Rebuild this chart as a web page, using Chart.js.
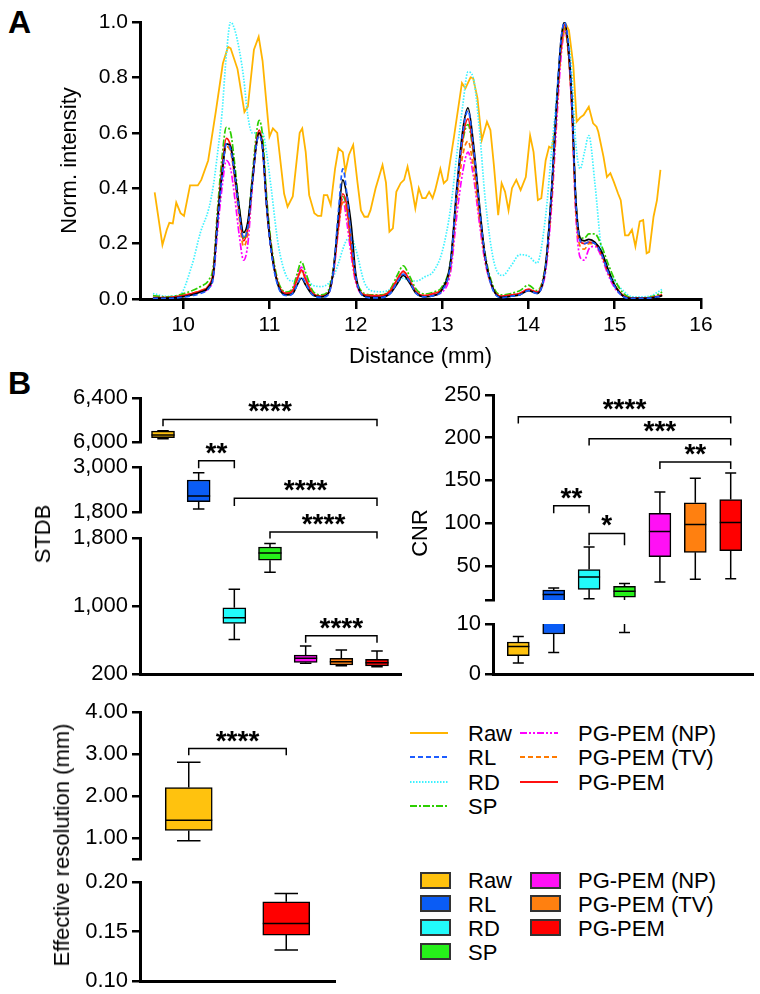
<!DOCTYPE html>
<html>
<head>
<meta charset="utf-8">
<script src="https://cdn.jsdelivr.net/npm/chart.js@4.4.0/dist/chart.umd.min.js"></script>
<style>
  html, body { margin: 0; padding: 0; background: #fff; }
  #fig { position: relative; width: 760px; height: 994px; overflow: hidden;
         font-family: 'Liberation Sans', Arial, sans-serif; color: #000; }
  canvas { position: absolute; }
  .panel { position: absolute; font-weight: bold; font-size: 32px; line-height: 32px; }
  .ytitle { position: absolute; font-size: 22px; white-space: nowrap;
            transform: translate(-50%, -50%) rotate(-90deg); }
  .leg { position: absolute; font-size: 22px; white-space: nowrap; transform: translateY(-50%); }
  .sw { position: absolute; box-sizing: border-box; border: 2px solid #333; }
</style>
</head>
<body>
<div id="fig">
  <div class="panel" style="left:8px;top:6px">A</div>
  <div class="panel" style="left:8px;top:367px">B</div>
  <canvas id="profile"></canvas>
  <canvas id="stdbTop"></canvas>
  <canvas id="stdbMid"></canvas>
  <canvas id="stdbLow"></canvas>
  <canvas id="cnrTop"></canvas>
  <canvas id="cnrLow"></canvas>
  <canvas id="resTop"></canvas>
  <canvas id="resLow"></canvas>
  <div class="ytitle" style="left:43px;top:534px">STDB</div>
  <div class="ytitle" style="left:420px;top:533px">CNR</div>
  <div class="ytitle" style="left:62px;top:845px">Effective resolution (mm)</div>
</div>
<script>
// ---- methods / colours ----
const methods = ['Raw', 'RL', 'RD', 'SP', 'PG-PEM (NP)', 'PG-PEM (TV)', 'PG-PEM'];
const boxColors = ['#ffc20e', '#0a5cf5', '#22fbfb', '#26f01a', '#ff10f5', '#ff8010', '#ff0000'];
const lineColors = ['#ffb400', '#1d5cff', '#3cf2ff', '#2ccf00', '#ff00ff', '#ff7a00', '#ff1010'];
const lineDashes = [[], [5, 3], [1.5, 1.5], [7, 2, 2, 2], [7, 2, 2, 2, 2, 2], [5, 3], []];

// ---- panel A: line profiles ----
const distTicks = [10, 11, 12, 13, 14, 15, 16];
const intensityTicks = [0, 0.2, 0.4, 0.6, 0.8, 1.0];

const rawDist = [9.67, 9.76, 9.81, 9.84, 9.88, 9.92, 9.97, 10.01, 10.08, 10.17,
  10.21, 10.29, 10.38, 10.46, 10.52, 10.55, 10.63, 10.71, 10.75, 10.82,
  10.875, 10.92, 11.0, 11.04, 11.09, 11.17, 11.21, 11.27, 11.35, 11.38,
  11.42, 11.46, 11.52, 11.56, 11.6, 11.63, 11.67, 11.71, 11.76, 11.8,
  11.85, 11.88, 11.92, 11.97, 12.02, 12.06, 12.1, 12.14, 12.17, 12.23,
  12.31, 12.35, 12.39, 12.43, 12.47, 12.52, 12.56, 12.6, 12.64, 12.69,
  12.73, 12.77, 12.81, 12.85, 12.89, 12.92, 12.98, 13.02, 13.06, 13.14,
  13.23, 13.27, 13.33, 13.36, 13.41, 13.46, 13.52, 13.56, 13.6, 13.65,
  13.69, 13.73, 13.77, 13.81, 13.86, 13.91, 13.97, 14.02, 14.06, 14.11,
  14.15, 14.2, 14.24, 14.27, 14.31, 14.37, 14.43, 14.47, 14.52, 14.56,
  14.6, 14.64, 14.7, 14.75, 14.79, 14.81, 14.87, 14.91, 14.95, 14.99,
  15.04, 15.07, 15.12, 15.16, 15.2, 15.24, 15.29, 15.33, 15.37, 15.4,
  15.45, 15.49, 15.53];
const rawIntensity = [0.385, 0.195, 0.25, 0.275, 0.273, 0.348, 0.31, 0.30, 0.41, 0.41,
  0.43, 0.50, 0.68, 0.85, 0.91, 0.905, 0.83, 0.675, 0.695, 0.90,
  0.947, 0.86, 0.586, 0.616, 0.60, 0.38, 0.333, 0.37, 0.60, 0.616,
  0.53, 0.375, 0.31, 0.30, 0.30, 0.375, 0.375, 0.34, 0.47, 0.544,
  0.53, 0.46, 0.52, 0.556, 0.42, 0.32, 0.297, 0.297, 0.32, 0.40,
  0.484, 0.42, 0.243, 0.255, 0.387, 0.418, 0.43, 0.478, 0.418, 0.327,
  0.40, 0.364, 0.364, 0.387, 0.364, 0.393, 0.47, 0.418, 0.43, 0.59,
  0.78, 0.76, 0.80, 0.797, 0.725, 0.574, 0.64, 0.61, 0.484, 0.303,
  0.418, 0.387, 0.32, 0.40, 0.43, 0.393, 0.44, 0.59, 0.53, 0.357,
  0.364, 0.50, 0.55, 0.544, 0.616, 0.88, 0.995, 0.97, 0.845, 0.64,
  0.655, 0.664, 0.694, 0.634, 0.622, 0.604, 0.514, 0.44, 0.454, 0.423,
  0.38, 0.357, 0.23, 0.23, 0.25, 0.19, 0.28, 0.285, 0.165, 0.17,
  0.297, 0.357, 0.466];

// shared distance grid for the reconstructed profiles
const dist = [9.65, 9.8, 9.95, 10.1, 10.2, 10.3, 10.35, 10.4, 10.45, 10.5,
  10.55, 10.6, 10.65, 10.7, 10.75, 10.8, 10.85, 10.88, 10.92, 10.97,
  11.02, 11.1, 11.2, 11.27, 11.32, 11.37, 11.42, 11.5, 11.6, 11.68,
  11.74, 11.8, 11.85, 11.9, 11.95, 12.0, 12.1, 12.2, 12.3, 12.4,
  12.48, 12.55, 12.62, 12.7, 12.8, 12.9, 13.0, 13.1, 13.17, 13.24,
  13.3, 13.36, 13.43, 13.5, 13.6, 13.7, 13.8, 13.9, 14.0, 14.1,
  14.2, 14.27, 14.33, 14.38, 14.42, 14.46, 14.5, 14.55, 14.6, 14.65,
  14.7, 14.77, 14.85, 14.92, 15.0, 15.1, 15.2, 15.3, 15.4, 15.5, 15.55];

const truth = [0.003, 0.003, 0.006, 0.015, 0.025, 0.045, 0.09, 0.29, 0.45, 0.56,
  0.55, 0.45, 0.33, 0.24, 0.28, 0.42, 0.56, 0.60, 0.55, 0.33,
  0.18, 0.05, 0.015, 0.02, 0.05, 0.075, 0.05, 0.015, 0.008, 0.02,
  0.10, 0.30, 0.43, 0.37, 0.26, 0.09, 0.01, 0.006, 0.006, 0.02,
  0.055, 0.085, 0.06, 0.02, 0.008, 0.012, 0.035, 0.14, 0.40, 0.61,
  0.69, 0.57, 0.35, 0.15, 0.03, 0.006, 0.01, 0.015, 0.03, 0.02,
  0.12, 0.40, 0.72, 0.94, 1.00, 0.92, 0.74, 0.36, 0.22, 0.21,
  0.215, 0.205, 0.17, 0.11, 0.05, 0.01, 0.002, 0.002, 0.003, 0.008, 0.012];
const rl = [0.002, 0.002, 0.005, 0.012, 0.02, 0.04, 0.08, 0.28, 0.44, 0.56,
  0.54, 0.44, 0.31, 0.22, 0.26, 0.41, 0.56, 0.59, 0.54, 0.32,
  0.17, 0.045, 0.012, 0.02, 0.05, 0.08, 0.055, 0.015, 0.006, 0.015,
  0.10, 0.32, 0.47, 0.37, 0.21, 0.08, 0.008, 0.004, 0.005, 0.02,
  0.06, 0.09, 0.065, 0.02, 0.008, 0.012, 0.03, 0.13, 0.39, 0.60,
  0.68, 0.56, 0.34, 0.15, 0.025, 0.005, 0.01, 0.015, 0.03, 0.02,
  0.12, 0.40, 0.73, 0.94, 1.00, 0.93, 0.74, 0.35, 0.21, 0.20,
  0.205, 0.20, 0.16, 0.10, 0.045, 0.008, 0.002, 0.002, 0.003, 0.008, 0.012];
const rd = [0.02, 0.01, 0.012, 0.12, 0.24, 0.33, 0.41, 0.53, 0.67, 0.88,
  1.0, 0.97, 0.90, 0.80, 0.66, 0.60, 0.60, 0.60, 0.60, 0.52,
  0.40, 0.20, 0.08, 0.065, 0.075, 0.10, 0.08, 0.05, 0.045, 0.055,
  0.08, 0.13, 0.18, 0.215, 0.22, 0.18, 0.06, 0.028, 0.026, 0.035,
  0.06, 0.075, 0.065, 0.065, 0.08, 0.10, 0.17, 0.33, 0.52, 0.70,
  0.82, 0.80, 0.62, 0.36, 0.135, 0.085, 0.12, 0.16, 0.155, 0.13,
  0.30, 0.54, 0.74, 0.92, 0.98, 0.94, 0.83, 0.56, 0.47, 0.53,
  0.59, 0.42, 0.17, 0.11, 0.065, 0.03, 0.008, 0.008, 0.01, 0.025, 0.035];
const sp = [0.012, 0.008, 0.014, 0.03, 0.045, 0.07, 0.12, 0.33, 0.51, 0.62,
  0.60, 0.48, 0.33, 0.22, 0.27, 0.44, 0.60, 0.645, 0.59, 0.36,
  0.20, 0.065, 0.025, 0.04, 0.09, 0.135, 0.095, 0.03, 0.015, 0.03,
  0.11, 0.27, 0.37, 0.32, 0.19, 0.08, 0.02, 0.015, 0.015, 0.035,
  0.085, 0.12, 0.085, 0.035, 0.018, 0.025, 0.045, 0.14, 0.38, 0.57,
  0.63, 0.53, 0.33, 0.16, 0.04, 0.015, 0.02, 0.03, 0.05, 0.03,
  0.13, 0.39, 0.71, 0.92, 0.98, 0.90, 0.72, 0.35, 0.22, 0.22,
  0.235, 0.235, 0.19, 0.13, 0.07, 0.02, 0.005, 0.004, 0.006, 0.016, 0.025];
const np = [0.004, 0.004, 0.008, 0.018, 0.025, 0.04, 0.08, 0.25, 0.40, 0.50,
  0.47, 0.36, 0.23, 0.14, 0.20, 0.40, 0.56, 0.60, 0.55, 0.33,
  0.18, 0.055, 0.02, 0.035, 0.08, 0.115, 0.08, 0.02, 0.01, 0.02,
  0.09, 0.25, 0.36, 0.27, 0.15, 0.06, 0.012, 0.01, 0.01, 0.025,
  0.07, 0.10, 0.07, 0.025, 0.01, 0.015, 0.025, 0.10, 0.30, 0.46,
  0.53, 0.45, 0.28, 0.13, 0.03, 0.01, 0.015, 0.02, 0.035, 0.025,
  0.10, 0.34, 0.65, 0.88, 0.97, 0.90, 0.70, 0.30, 0.15, 0.14,
  0.18, 0.19, 0.15, 0.09, 0.04, 0.01, 0.003, 0.003, 0.004, 0.01, 0.015];
const tv = [0.005, 0.005, 0.01, 0.02, 0.03, 0.05, 0.09, 0.29, 0.45, 0.55,
  0.53, 0.43, 0.29, 0.19, 0.24, 0.41, 0.56, 0.60, 0.54, 0.32,
  0.18, 0.055, 0.02, 0.03, 0.07, 0.10, 0.07, 0.02, 0.01, 0.02,
  0.09, 0.26, 0.35, 0.31, 0.17, 0.07, 0.015, 0.012, 0.012, 0.03,
  0.07, 0.10, 0.07, 0.025, 0.012, 0.02, 0.035, 0.12, 0.35, 0.52,
  0.57, 0.48, 0.30, 0.14, 0.03, 0.01, 0.015, 0.02, 0.035, 0.025,
  0.12, 0.37, 0.69, 0.91, 0.98, 0.91, 0.71, 0.32, 0.19, 0.18,
  0.20, 0.20, 0.16, 0.10, 0.05, 0.012, 0.003, 0.003, 0.004, 0.01, 0.015];
const pgpem = [0.005, 0.005, 0.01, 0.02, 0.03, 0.05, 0.10, 0.30, 0.47, 0.58,
  0.55, 0.43, 0.31, 0.21, 0.26, 0.42, 0.57, 0.61, 0.55, 0.33,
  0.18, 0.055, 0.02, 0.03, 0.07, 0.105, 0.07, 0.02, 0.01, 0.02,
  0.10, 0.27, 0.38, 0.33, 0.18, 0.07, 0.015, 0.012, 0.012, 0.03,
  0.07, 0.10, 0.07, 0.025, 0.012, 0.02, 0.035, 0.13, 0.38, 0.58,
  0.65, 0.54, 0.33, 0.15, 0.03, 0.01, 0.015, 0.02, 0.035, 0.025,
  0.12, 0.38, 0.70, 0.92, 0.99, 0.91, 0.72, 0.34, 0.21, 0.20,
  0.205, 0.20, 0.16, 0.10, 0.05, 0.012, 0.003, 0.003, 0.004, 0.01, 0.015];

// ---- panel B: box statistics (min, q1, median, q3, max) ----
const stdbMin = [6030, 1880, 607, 1398, 326, 297, 286];
const stdbQ1 = [6039, 2075, 795, 1538, 337, 306, 294];
const stdbMed = [6063, 2227, 861, 1624, 384, 344, 333];
const stdbQ3 = [6099, 2654, 978, 1694, 423, 384, 373];
const stdbMax = [6102, 2849, 1198, 1734, 529, 482, 470];

const cnrMin = [2.2, 4.3, 11.4, 8.3, 31, 34.3, 35];
const cnrQ1 = [3.66, 8.0, 22.5, 13.4, 60.6, 65.8, 67.7];
const cnrMed = [5.5, 16.5, 37, 20.1, 90.2, 98.5, 100.8];
const cnrQ3 = [6.4, 21.5, 45.7, 26, 111.5, 123.8, 127.6];
const cnrMax = [7.5, 24, 72, 29.2, 136.3, 152.5, 158.8];

const resMethods = ['Raw', 'PG-PEM'];
const resColors = ['#ffc20e', '#ff0000'];
const resMin = [0.935, 0.1312];
const resQ1 = [1.18, 0.1464];
const resMed = [1.42, 0.1582];
const resQ3 = [2.20, 0.180];
const resMax = [2.805, 0.1884];

// significance brackets: group indices, bar level, end level, stars
const stdbBrackets = [
  [{ from: 0, to: 6, y: 6205, end: 6144, text: '****' }],
  [{ from: 1, to: 2, y: 3168, end: 2965, text: '**' },
   { from: 2, to: 6, y: 2166, end: 1960, text: '****' }],
  [{ from: 3, to: 6, y: 1871, end: 1793, text: '****' },
   { from: 4, to: 6, y: 650, end: 567, text: '****' }]
];
const cnrBrackets = [
  { from: 0, to: 6, y: 224.5, end: 216.5, text: '****' },
  { from: 2, to: 6, y: 198.8, end: 190.8, text: '***' },
  { from: 4, to: 6, y: 171.5, end: 163.3, text: '**' },
  { from: 1, to: 2, y: 120.3, end: 111.7, text: '**' },
  { from: 2, to: 3, y: 87.9, end: 74.2, text: '*' }
];
const resBrackets = [{ from: 0, to: 1, y: 3.13, end: 2.97, text: '****' }];

// broken axis segments: range, ticks, labels
const stdbSegs = [
  { min: 6000, max: 6400, ticks: [6000, 6400], labels: ['6,000', '6,400'] },
  { min: 1800, max: 3000, ticks: [1800, 3000], labels: ['1,800', '3,000'] },
  { min: 200, max: 1800, ticks: [200, 1000, 1800], labels: ['200', '1,000', '1,800'] }
];
const cnrSegs = [
  { min: 10, max: 250, ticks: [10, 50, 100, 150, 200, 250], labels: ['', '50', '100', '150', '200', '250'] },
  { min: 0, max: 10, ticks: [0, 10], labels: ['0', '10'] }
];
const resSegs = [
  { min: 0.5, max: 4, ticks: [0.5, 1, 2, 3, 4], labels: ['', '1.00', '2.00', '3.00', '4.00'] },
  { min: 0.1, max: 0.2, ticks: [0.1, 0.15, 0.2], labels: ['0.10', '0.15', '0.20'] }
];

Chart.defaults.font.family = "'Liberation Sans', Arial, sans-serif";
Chart.defaults.color = '#000';

// whiskers, medians and significance brackets
const boxExtras = {
  id: 'boxExtras',
  afterDatasetsDraw(chart, args, opts) {
    const { ctx, chartArea: a, scales: { x, y } } = chart;
    const s = opts.stats;
    const half = opts.boxWidth / 2, cap = opts.boxWidth / 4;
    ctx.save();
    ctx.beginPath();
    ctx.rect(a.left, a.top, a.right - a.left, a.bottom - a.top);
    ctx.clip();
    ctx.strokeStyle = '#000';
    ctx.lineWidth = 1.5;
    s.med.forEach((m, i) => {
      const cx = x.getPixelForValue(i);
      const lo = y.getPixelForValue(s.min[i]), q1 = y.getPixelForValue(s.q1[i]);
      const q3 = y.getPixelForValue(s.q3[i]), hi = y.getPixelForValue(s.max[i]);
      const md = y.getPixelForValue(m);
      ctx.beginPath();
      ctx.moveTo(cx, q1); ctx.lineTo(cx, lo);
      ctx.moveTo(cx - cap, lo); ctx.lineTo(cx + cap, lo);
      ctx.moveTo(cx, q3); ctx.lineTo(cx, hi);
      ctx.moveTo(cx - cap, hi); ctx.lineTo(cx + cap, hi);
      ctx.moveTo(cx - half, md); ctx.lineTo(cx + half, md);
      ctx.stroke();
    });
    ctx.restore();

    ctx.save();
    ctx.strokeStyle = '#000';
    ctx.lineWidth = 1.5;
    ctx.fillStyle = '#000';
    ctx.font = "bold 28px 'Liberation Sans', Arial, sans-serif";
    ctx.textAlign = 'center';
    ctx.textBaseline = 'alphabetic';
    (opts.brackets || []).forEach(b => {
      const x1 = x.getPixelForValue(b.from), x2 = x.getPixelForValue(b.to);
      const py = y.getPixelForValue(b.y), pe = y.getPixelForValue(b.end);
      ctx.beginPath();
      ctx.moveTo(x1, pe); ctx.lineTo(x1, py); ctx.lineTo(x2, py); ctx.lineTo(x2, pe);
      ctx.stroke();
      ctx.fillText(b.text, (x1 + x2) / 2, py + 1);
    });
    ctx.restore();
  }
};

function placeCanvas(id, area, m) {
  const c = document.getElementById(id);
  const w = area.x1 - area.x0 + m.l + m.r;
  const h = area.y1 - area.y0 + m.t + m.b;
  c.width = w; c.height = h;
  c.style.left = (area.x0 - m.l) + 'px';
  c.style.top = (area.y0 - m.t) + 'px';
  c.style.width = w + 'px';
  c.style.height = h + 'px';
  return c;
}

function boxChart(id, area, seg, cfg, showX) {
  const m = { l: 130, t: 45, r: 12, b: 20 };
  const canvas = placeCanvas(id, area, m);
  return new Chart(canvas, {
    type: 'bar',
    data: {
      datasets: [{
        data: cfg.q1.map((v, i) => ({ x: i, y: [v, cfg.q3[i]] })),
        backgroundColor: cfg.colors,
        borderColor: '#000',
        borderWidth: 1.5,
        borderSkipped: false,
        barThickness: cfg.boxWidth,
        clip: 0
      }]
    },
    options: {
      responsive: false,
      animation: false,
      events: [],
      layout: { padding: { left: 0, top: m.t, right: m.r, bottom: m.b } },
      plugins: {
        legend: { display: false },
        tooltip: { enabled: false },
        boxExtras: { stats: cfg, boxWidth: cfg.boxWidth, brackets: cfg.brackets }
      },
      scales: {
        x: {
          type: 'linear', min: cfg.xMin, max: cfg.xMax, offset: false, display: showX,
          grid: { display: false }, ticks: { display: false },
          border: { display: true, width: 3, color: '#000' },
          afterFit: s => { s.height = 0; }
        },
        y: {
          type: 'linear', min: seg.min, max: seg.max,
          afterBuildTicks: s => { s.ticks = seg.ticks.map(v => ({ value: v })); },
          afterFit: s => { s.width = m.l; },
          border: { display: true, width: 3, color: '#000' },
          grid: { drawOnChartArea: false, drawTicks: true, tickLength: 8, color: '#000', lineWidth: 2.5 },
          ticks: { font: { size: 22 }, color: '#000', padding: 4, autoSkip: false,
                   callback: (v, i) => seg.labels[i] }
        }
      }
    },
    plugins: [boxExtras]
  });
}

// ---- panel A ----
(function () {
  const canvas = placeCanvas('profile', { x0: 140, x1: 701, y0: 22, y1: 299 }, { l: 140, t: 22, r: 59, b: 81 });
  const series = [
    { label: 'RL', data: rl, k: 1 },
    { label: 'Reference', data: truth, color: '#000', dash: [] },
    { label: 'PG-PEM', data: pgpem, k: 6 },
    { label: 'PG-PEM (TV)', data: tv, k: 5 },
    { label: 'SP', data: sp, k: 3 },
    { label: 'PG-PEM (NP)', data: np, k: 4 },
    { label: 'RD', data: rd, k: 2 }
  ];
  const datasets = series.map(s => ({
    label: s.label,
    data: dist.map((d, i) => ({ x: d, y: s.data[i] })),
    borderColor: s.k !== undefined ? lineColors[s.k] : s.color,
    borderDash: s.k !== undefined ? lineDashes[s.k] : s.dash,
    borderWidth: 1.7,
    pointRadius: 0,
    cubicInterpolationMode: 'monotone',
    fill: false
  }));
  datasets.push({
    label: 'Raw',
    data: rawDist.map((d, i) => ({ x: d, y: rawIntensity[i] })),
    borderColor: lineColors[0],
    borderWidth: 1.8,
    pointRadius: 0,
    tension: 0,
    fill: false
  });
  new Chart(canvas, {
    type: 'line',
    data: { datasets },
    options: {
      responsive: false,
      animation: false,
      events: [],
      layout: { padding: { left: 0, top: 22, right: 59, bottom: 0 } },
      plugins: { legend: { display: false }, tooltip: { enabled: false } },
      scales: {
        x: {
          type: 'linear', min: 9.5, max: 16,
          afterBuildTicks: s => { s.ticks = distTicks.map(v => ({ value: v })); },
          afterFit: s => { s.height = 81; },
          border: { width: 3, color: '#000' },
          grid: { drawOnChartArea: false, drawTicks: true, tickLength: 10, color: '#000', lineWidth: 2.5 },
          ticks: { font: { size: 21 }, color: '#000', padding: 4, maxRotation: 0, autoSkip: false,
                   callback: v => String(v) },
          title: { display: true, text: 'Distance (mm)', font: { size: 22 }, color: '#000',
                   padding: { top: 0, bottom: 10 } }
        },
        y: {
          type: 'linear', min: 0, max: 1,
          afterBuildTicks: s => { s.ticks = intensityTicks.map(v => ({ value: v })); },
          afterFit: s => { s.width = 140; },
          border: { width: 3, color: '#000' },
          grid: { drawOnChartArea: false, drawTicks: true, tickLength: 8, color: '#000', lineWidth: 2.5 },
          ticks: { font: { size: 21 }, color: '#000', padding: 4, autoSkip: false,
                   callback: v => v.toFixed(1) },
          title: { display: true, text: 'Norm. intensity', font: { size: 22 }, color: '#000',
                   padding: { top: 57, bottom: 0 } }
        }
      }
    }
  });
})();

// ---- panel B: STDB ----
const stdbAreas = [
  { x0: 140, x1: 401, y0: 398, y1: 442 },
  { x0: 140, x1: 401, y0: 467, y1: 512 },
  { x0: 140, x1: 401, y0: 538, y1: 674 }
];
['stdbTop', 'stdbMid', 'stdbLow'].forEach((id, k) => {
  boxChart(id, stdbAreas[k], stdbSegs[k], {
    min: stdbMin, q1: stdbQ1, med: stdbMed, q3: stdbQ3, max: stdbMax,
    colors: boxColors, boxWidth: 23, xMin: -0.645, xMax: 6.673, brackets: stdbBrackets[k]
  }, k === 2);
});

// ---- panel B: CNR ----
const cnrAreas = [
  { x0: 493, x1: 753, y0: 395, y1: 600 },
  { x0: 493, x1: 753, y0: 624, y1: 674 }
];
['cnrTop', 'cnrLow'].forEach((id, k) => {
  boxChart(id, cnrAreas[k], cnrSegs[k], {
    min: cnrMin, q1: cnrQ1, med: cnrMed, q3: cnrQ3, max: cnrMax,
    colors: boxColors, boxWidth: 22, xMin: -0.715, xMax: 6.63, brackets: k === 0 ? cnrBrackets : []
  }, k === 1);
});

// ---- panel B: effective resolution ----
const resAreas = [
  { x0: 140, x1: 335, y0: 712, y1: 859 },
  { x0: 140, x1: 335, y0: 882, y1: 981 }
];
['resTop', 'resLow'].forEach((id, k) => {
  boxChart(id, resAreas[k], resSegs[k], {
    min: resMin, q1: resQ1, med: resMed, q3: resQ3, max: resMax,
    colors: resColors, boxWidth: 47, xMin: -0.5, xMax: 1.5, brackets: k === 0 ? resBrackets : []
  }, k === 1);
});

// ---- legends ----
(function () {
  const fig = document.getElementById('fig');
  methods.forEach((name, i) => {
    const col = i < 4 ? 0 : 1;
    const row = i < 4 ? i : i - 4;
    const textX = col ? 578 : 468;

    // line legend
    const ly = 733 + row * 24.3;
    const svg = document.createElementNS('http://www.w3.org/2000/svg', 'svg');
    svg.setAttribute('width', '38');
    svg.setAttribute('height', '6');
    svg.style.position = 'absolute';
    svg.style.left = (col ? 520 : 410) + 'px';
    svg.style.top = (ly - 3) + 'px';
    const ln = document.createElementNS('http://www.w3.org/2000/svg', 'line');
    ln.setAttribute('x1', '0'); ln.setAttribute('x2', '38');
    ln.setAttribute('y1', '3'); ln.setAttribute('y2', '3');
    ln.setAttribute('stroke', lineColors[i]);
    ln.setAttribute('stroke-width', '2');
    if (lineDashes[i].length) ln.setAttribute('stroke-dasharray', lineDashes[i].join(' '));
    svg.appendChild(ln);
    fig.appendChild(svg);
    const t1 = document.createElement('div');
    t1.className = 'leg';
    t1.textContent = name;
    t1.style.left = textX + 'px';
    t1.style.top = (ly + 1) + 'px';
    fig.appendChild(t1);

    // box legend
    const by = 880 + row * 23.9;
    const sw = document.createElement('div');
    sw.className = 'sw';
    sw.style.left = (col ? 530 : 420) + 'px';
    sw.style.top = (by - 8.5) + 'px';
    sw.style.width = '31px';
    sw.style.height = '17px';
    sw.style.background = boxColors[i];
    fig.appendChild(sw);
    const t2 = document.createElement('div');
    t2.className = 'leg';
    t2.textContent = name;
    t2.style.left = textX + 'px';
    t2.style.top = (by + 1) + 'px';
    fig.appendChild(t2);
  });
})();
</script>
</body>
</html>
